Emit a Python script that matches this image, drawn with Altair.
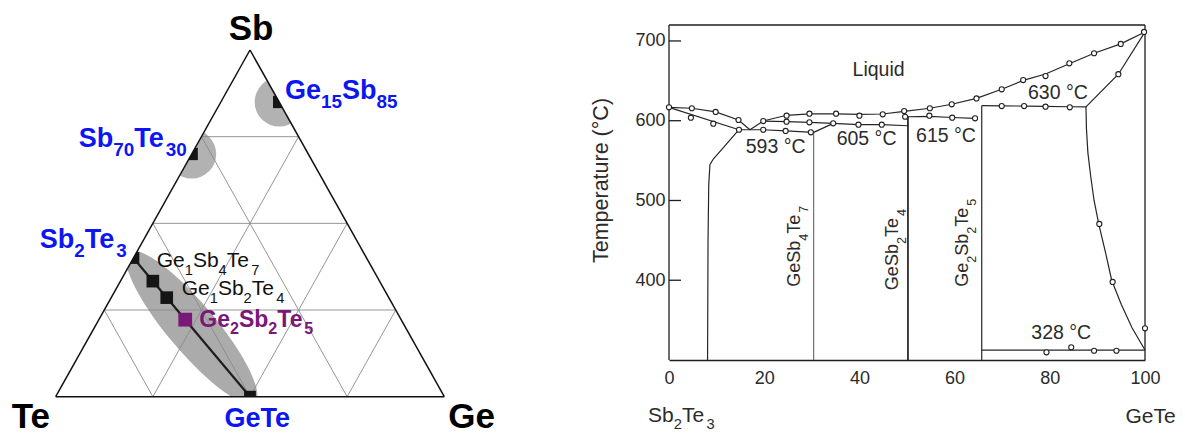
import math
import re

import altair as alt
import pandas as pd

FONT = "Liberation Sans"
BLUE = "#0b16f2"
PURPLE = "#7a1878"
INK = "#1e1e1e"
TXT = "#2b2b2b"
HALO = "#b2b2b2"

# Arial-compatible advance widths (1/1000 em), used to place subscripts
ADV_REG = {"G": 778, "e": 556, "S": 667, "b": 556, "T": 611, " ": 278, "°": 400, "C": 722}
ADV_BOLD = {"G": 778, "e": 556, "S": 667, "b": 611, "T": 611}


def advance(text, size, bold):
    table = ADV_BOLD if bold else ADV_REG
    return sum(table.get(ch, 556) for ch in text) * size / 1000.0


def formula_parts(formula):
    # digits in a chemical formula are written as subscripts
    return [(tok, tok.isdigit()) for tok in re.findall(r"[A-Za-z]+|\d+", formula)]


def text_rows(parts, ax, ay, size, bold, align, color, to_px, from_px,
              rotated=False, sub_scale=0.7, sub_drop=0.33):
    px, py = to_px(ax, ay)
    pieces, pos = [], 0.0
    for text, is_sub in parts:
        fs = size * sub_scale if is_sub else size
        pieces.append((text, pos, size * sub_drop if is_sub else 0.0, fs))
        pos += advance(text, fs, bold)
    start = {"left": 0.0, "center": -pos / 2, "right": -pos}[align]
    rows = []
    for text, off, drop, fs in pieces:
        if rotated:
            sx, sy = px + drop, py - (start + off)
        else:
            sx, sy = px + start + off, py + drop
        x, y = from_px(sx, sy)
        rows.append({"x": x, "y": y, "label": text, "fs": fs, "color": color})
    return rows


# =================== left: Ge-Sb-Te composition triangle ===================
phase_names = ["Sb2Te3", "GeSb4Te7", "GeSb2Te4", "Ge2Sb2Te5", "GeTe", "Sb70Te30", "Ge15Sb85"]
ge_atoms = [0, 1, 1, 2, 1, 0, 15]
sb_atoms = [2, 4, 2, 2, 0, 70, 85]
te_atoms = [3, 7, 4, 5, 1, 30, 0]
marker_colors = ["#151515", "#151515", "#151515", PURPLE, "#151515", "#151515", "#151515"]
marker_sizes = [140, 160, 160, 190, 140, 150, 150]
halo_phases = ["Sb70Te30", "Ge15Sb85"]
grid_fractions = [0.25, 0.5, 0.75]

# label: formula, anchor x, anchor y (triangle units), font size, bold, align, colour
left_labels = [
    ("Sb", 0.5026, 1.0288, 35, True, "center", "#000000"),
    ("Te", -0.0605, -0.0890, 35, True, "center", "#000000"),
    ("Ge", 1.0705, -0.0890, 35, True, "center", "#000000"),
    ("GeTe", 0.5214, -0.0883, 27, True, "center", BLUE),
    ("Ge15Sb85", 0.5901, 0.8578, 27, True, "left", BLUE),
    ("Sb70Te30", 0.3371, 0.7193, 27, True, "right", BLUE),
    ("Sb2Te3", 0.1827, 0.4280, 27, True, "right", BLUE),
    ("Ge2Sb2Te5", 0.3696, 0.2019, 23, True, "left", PURPLE),
    ("Ge1Sb4Te7", 0.2599, 0.3750, 21, False, "left", "#111111"),
    ("Ge1Sb2Te4", 0.3243, 0.2933, 21, False, "left", "#111111"),
]

PXU_X, PXU_Y = 388.6, 346.7          # pixels per triangle unit
L_W, L_H = 500, 433
X0 = -55.7 / PXU_X
X1 = X0 + L_W / PXU_X
Y0 = -(L_H - 396.7) / PXU_Y
Y1 = Y0 + L_H / PXU_Y


def l_to_px(x, y):
    return (x - X0) * PXU_X, L_H - (y - Y0) * PXU_Y


def l_from_px(px, py):
    return px / PXU_X + X0, (L_H - py) / PXU_Y + Y0


lx = alt.Scale(domain=[X0, X1], nice=False, zero=False)
ly = alt.Scale(domain=[Y0, Y1], nice=False, zero=False)
LX = alt.X("x:Q", scale=lx, axis=None)
LY = alt.Y("y:Q", scale=ly, axis=None)

n_atoms = [g + s + t for g, s, t in zip(ge_atoms, sb_atoms, te_atoms)]
comp = pd.DataFrame({
    "phase": phase_names,
    "x": [(g + s / 2) / n for g, s, n in zip(ge_atoms, sb_atoms, n_atoms)],
    "y": [s / n for s, n in zip(sb_atoms, n_atoms)],
    "color": marker_colors,
    "size": marker_sizes,
}).set_index("phase")

# tie line Sb2Te3 - GeTe and the shaded ellipse around it
a, b = comp.loc["Sb2Te3"], comp.loc["GeTe"]
tie = pd.DataFrame({"x": [a.x], "y": [a.y], "x2": [b.x], "y2": [b.y]})
ell_center = pd.DataFrame({"x": [(a.x + b.x) / 2], "y": [(a.y + b.y) / 2]})
ell_angle = math.degrees(math.atan2((a.y - b.y) * PXU_Y, (b.x - a.x) * PXU_X))
semi_major, semi_minor = 98.0, 24.0
r = semi_minor / semi_major
k = 0.5523 * r
kk = 0.5523
ELLIPSE = (f"M -1 0 C -1 {-k:.4f} {-kk} {-r:.4f} 0 {-r:.4f} "
           f"C {kk} {-r:.4f} 1 {-k:.4f} 1 0 "
           f"C 1 {k:.4f} {kk} {r:.4f} 0 {r:.4f} "
           f"C {-kk} {r:.4f} -1 {k:.4f} -1 0 Z")

halo = comp.loc[halo_phases].reset_index()

grid_rows = []
for f in grid_fractions:
    grid_rows.append({"x": f / 2, "y": f, "x2": 1 - f / 2, "y2": f})
    grid_rows.append({"x": 1 - f, "y": 0, "x2": (1 - f) / 2, "y2": 1 - f})
    grid_rows.append({"x": f, "y": 0, "x2": f + (1 - f) / 2, "y2": 1 - f})
grid = pd.DataFrame(grid_rows)

vertices = {"Te": (0.0, 0.0), "Ge": (1.0, 0.0), "Sb": (0.5, 1.0)}
edges = pd.DataFrame([
    {"x": vertices[p][0], "y": vertices[p][1], "x2": vertices[q][0], "y2": vertices[q][1]}
    for p, q in [("Te", "Ge"), ("Ge", "Sb"), ("Sb", "Te")]
])

# white cover for everything outside the triangle
mask = pd.DataFrame({
    "part": ["top"] * 5 + ["bottom"] * 2,
    "x": [X0, 0.0, 0.5, 1.0, X1, X0, X1],
    "lo": [0.0, 0.0, 1.0, 0.0, 0.0, Y0, Y0],
    "hi": [Y1] * 5 + [0.0, 0.0],
})

bold_rows, reg_rows = [], []
for formula, ax_, ay_, size, bold, align, color in left_labels:
    rows = text_rows(formula_parts(formula), ax_, ay_, size, bold, align, color,
                     l_to_px, l_from_px, sub_scale=0.7, sub_drop=0.33 if bold else 0.38)
    (bold_rows if bold else reg_rows).extend(rows)

left = alt.layer(
    alt.Chart(ell_center).mark_point(shape=ELLIPSE, filled=True, color="#ababab", opacity=1,
                                     strokeWidth=0, size=(2 * semi_major) ** 2,
                                     angle=ell_angle).encode(x=LX, y=LY),
    alt.Chart(halo).mark_point(shape="circle", filled=True, color=HALO, opacity=1,
                               strokeWidth=0, size=49 ** 2).encode(x=LX, y=LY),
    alt.Chart(grid).mark_rule(color="#8a8a8a", strokeWidth=0.9).encode(
        x=LX, y=LY, x2="x2:Q", y2="y2:Q"),
    alt.Chart(tie).mark_rule(color=INK, strokeWidth=2.2).encode(
        x=LX, y=LY, x2="x2:Q", y2="y2:Q"),
    alt.Chart(comp.reset_index()).mark_point(shape="square", filled=True, opacity=1,
                                             strokeWidth=0).encode(
        x=LX, y=LY,
        color=alt.Color("color:N", scale=None),
        size=alt.Size("size:Q", scale=None)),
    alt.Chart(mask).mark_area(color="white", opacity=1).encode(
        x=LX, y=alt.Y("lo:Q", scale=ly, axis=None), y2="hi:Q", detail="part:N"),
    alt.Chart(edges).mark_rule(color="#111111", strokeWidth=1.5).encode(
        x=LX, y=LY, x2="x2:Q", y2="y2:Q"),
    alt.Chart(pd.DataFrame(bold_rows)).mark_text(
        font=FONT, fontWeight="bold", align="left", baseline="alphabetic").encode(
        x=LX, y=LY, text="label:N",
        size=alt.Size("fs:Q", scale=None), color=alt.Color("color:N", scale=None)),
    alt.Chart(pd.DataFrame(reg_rows)).mark_text(
        font=FONT, align="left", baseline="alphabetic").encode(
        x=LX, y=LY, text="label:N",
        size=alt.Size("fs:Q", scale=None), color=alt.Color("color:N", scale=None)),
).properties(width=L_W, height=L_H)

# =================== right: Sb2Te3 - GeTe phase diagram ===================
# mol % GeTe, temperature in °C
curves = {
    "liquidus_left": ([0, 4.8, 9.8, 14.6, 17.0],
                      [616.8, 615.6, 611.0, 600.9, 588.7]),
    "solidus_left": ([0, 14.7], [616.8, 588.7]),
    "solvus_left": ([14.7, 11.1, 9.3, 8.6, 8.35, 8.2, 8.1],
                    [588.7, 564, 552, 545, 520, 450, 300]),
    "eutectic_593": ([14.7, 19.8, 24.5, 30.4], [588.7, 588.7, 587.2, 585.4]),
    "liquidus_right": ([17.0, 19.8, 24.7, 29.5, 35.1, 40.0, 44.9, 49.4, 54.8, 59.4, 64.6,
                        69.9, 74.4, 79.1, 84.1, 89.3, 94.9, 100],
                       [588.7, 599.6, 606.8, 608.6, 608.6, 608.0, 608.4, 611.8, 615.6, 620.6,
                        628.0, 639.4, 650.5, 658.5, 671.5, 684.6, 696.3, 711.3]),
    "peritectic_605": ([19.8, 24.7, 29.5, 34.5, 39.8, 44.7, 50.2],
                       [599.6, 598.8, 598.0, 596.7, 595.0, 595.0, 593.7]),
    "link_147": ([30.4, 34.5], [585.4, 596.7]),
    "peritectic_615": ([50.2, 54.7, 59.5, 64.3], [605.0, 605.5, 604.0, 603.0]),
    "peritectic_630": ([65.7, 69.9, 74.6, 79.1, 84.2, 87.6],
                       [618.8, 618.6, 618.4, 618.0, 617.5, 617.3]),
    "solidus_right": ([87.6, 94.4, 100], [617.3, 658.3, 711.3]),
    "solvus_right": ([87.6, 87.7, 88.0, 88.6, 89.3, 90.3, 91.7, 93.0, 95.0, 97.3, 100],
                     [617.3, 590, 560, 530, 500, 470, 435, 400, 370, 340, 312.5]),
    "eutectoid_328": ([65.7, 100], [312.5, 312.5]),
    "Ge2Sb2Te5": ([65.7, 65.7], [300, 618.8]),
}
compound_lines = {
    "GeSb4Te7": ([30.4, 30.4], [300, 585.4], "#555555", 1.0),
    "GeSb2Te4": ([50.2, 50.2], [300, 605.0], "#111111", 1.6),
}
meas_x = [0, 4.8, 4.6, 9.8, 9.3, 14.6, 14.7, 19.8, 19.8, 24.7, 24.7, 24.5, 29.5, 29.5, 29.8,
          35.1, 34.5, 40.0, 39.8, 44.9, 44.7, 49.4, 49.6, 54.8, 54.7, 59.4, 59.5, 64.6, 64.3,
          69.9, 69.9, 74.4, 74.6, 79.1, 79.1, 84.1, 84.2, 89.3, 94.4, 94.9, 99.8,
          90.4, 93.2, 100, 79.3, 84.5, 89.3, 94.0]
meas_t = [616.8, 615.6, 603.8, 611.0, 596.3, 600.9, 588.7, 599.6, 588.7, 606.3, 598.8, 587.2,
          608.8, 598.0, 585.4, 608.8, 596.7, 606.3, 595.0, 608.0, 595.0, 612.2, 605.0, 615.6,
          606.3, 620.6, 603.8, 628.0, 603.0, 639.4, 618.4, 651.0, 618.4, 656.0, 617.6, 672.0,
          616.8, 684.6, 658.3, 696.3, 711.3, 470.6, 397.9, 339.7, 309.6, 315.9, 311.6, 311.6]
temp_ticks = [400, 500, 600, 700]
comp_ticks = [0, 20, 40, 60, 80, 100]

# annotation: text, x, T, size
annotations = [
    ("Liquid", 45.4, 656.0, 19.5),
    ("593 °C", 22.4, 559.2, 19.5),
    ("605 °C", 41.5, 569.6, 19.5),
    ("615 °C", 58.2, 573.8, 19.5),
    ("630 °C", 81.7, 627.3, 19.5),
    ("328 °C", 82.4, 326.0, 19.5),
]
end_members = [("Sb2Te3", 2.6, 222.6, 21), ("GeTe", 101.4, 221.0, 21)]
compound_labels = [("GeSb4Te7", 27.5, 391.7), ("GeSb2Te4", 48.1, 387.6), ("Ge2Sb2Te5", 62.8, 391.7)]

R_W, R_H = 476, 360
T_LO, T_TOP = 300, 720
KY = 335 / (T_TOP - T_LO)
T_HI = T_TOP + (R_H - 335) / KY


def r_to_px(x, t):
    return x * R_W / 100.0, R_H - (t - T_LO) * KY


def r_from_px(px, py):
    return px * 100.0 / R_W, T_LO + (R_H - py) / KY


rx = alt.Scale(domain=[0, 100], nice=False, zero=False)
ry = alt.Scale(domain=[T_LO, T_HI], nice=False, zero=False)
x_axis = alt.Axis(values=comp_ticks, format="d", ticks=False, grid=False, labelFont=FONT,
                  labelFontSize=18, labelColor=TXT, labelPadding=9, labelFlush=False,
                  domainColor=INK, domainWidth=1.6, title=None)
y_axis = alt.Axis(values=temp_ticks, format="d", ticks=False, grid=False, domain=False,
                  labelFont=FONT, labelFontSize=18, labelColor=TXT, labelPadding=4,
                  labelFlush=False,
                  title="Temperature (°C)", titleFont=FONT, titleFontSize=21.5,
                  titleFontWeight="normal", titleColor=TXT, titlePadding=22)
RX = alt.X("x:Q", scale=rx, axis=x_axis)
RY = alt.Y("T:Q", scale=ry, axis=y_axis)

line_rows = []
for name, (xs, ts) in curves.items():
    for i, (xv, tv) in enumerate(zip(xs, ts)):
        line_rows.append({"seg": name, "ord": i, "x": xv, "T": tv})
lines = pd.DataFrame(line_rows)

cl_rows = []
for name, (xs, ts, col, w) in compound_lines.items():
    for i, (xv, tv) in enumerate(zip(xs, ts)):
        cl_rows.append({"seg": name, "ord": i, "x": xv, "T": tv, "c": col, "w": w})
clines = pd.DataFrame(cl_rows)

points = pd.DataFrame({"x": meas_x, "T": meas_t})

box = pd.DataFrame({"x": [0, 100, 0], "T": [T_LO, T_LO, T_TOP],
                    "x2": [0, 100, 100], "T2": [T_TOP, T_TOP, T_TOP]})
tick_len = 12 * 100.0 / R_W
ticks = pd.DataFrame({"x": [0] * len(temp_ticks), "x2": [tick_len] * len(temp_ticks),
                      "T": temp_ticks})

r_rows, rot_rows = [], []
for text, xv, tv, size in annotations:
    r_rows += text_rows([(text, False)], xv, tv, size, False, "center", TXT, r_to_px, r_from_px)
for text, xv, tv, size in end_members:
    r_rows += text_rows(formula_parts(text), xv, tv, size, False, "center", TXT,
                        r_to_px, r_from_px, sub_drop=0.36)
for text, xv, tv in compound_labels:
    rot_rows += text_rows(formula_parts(text), xv, tv, 18, False, "left", TXT,
                          r_to_px, r_from_px, rotated=True, sub_drop=0.45)
r_text = pd.DataFrame(r_rows).rename(columns={"y": "T"})
rot_text = pd.DataFrame(rot_rows).rename(columns={"y": "T"})

right = alt.layer(
    alt.Chart(box).mark_rule(color=INK, strokeWidth=1.3).encode(
        x=RX, y=RY, x2="x2:Q", y2="T2:Q"),
    alt.Chart(ticks).mark_rule(color=INK, strokeWidth=1.3).encode(x=RX, x2="x2:Q", y=RY),
    alt.Chart(lines).mark_line(color="#262626", strokeWidth=1.2).encode(
        x=RX, y=RY, detail="seg:N", order="ord:Q"),
    alt.Chart(clines).mark_line().encode(
        x=RX, y=RY, detail="seg:N", order="ord:Q",
        color=alt.Color("c:N", scale=None), size=alt.Size("w:Q", scale=None)),
    alt.Chart(points).mark_point(shape="circle", filled=True, fill="white", stroke="#222222",
                                 strokeWidth=1.1, size=26, opacity=1).encode(x=RX, y=RY),
    alt.Chart(r_text).mark_text(font=FONT, align="left", baseline="alphabetic").encode(
        x=RX, y=RY, text="label:N",
        size=alt.Size("fs:Q", scale=None), color=alt.Color("color:N", scale=None)),
    alt.Chart(rot_text).mark_text(font=FONT, align="left", baseline="alphabetic",
                                  angle=270).encode(
        x=RX, y=RY, text="label:N",
        size=alt.Size("fs:Q", scale=None), color=alt.Color("color:N", scale=None)),
).properties(width=R_W, height=R_H)

chart = alt.hconcat(left, right, spacing=169, bounds="flush").properties(
    padding=0, background="white"
).configure_view(stroke=None)

chart.save("out.html", embed_options={"renderer": "svg", "actions": False})
